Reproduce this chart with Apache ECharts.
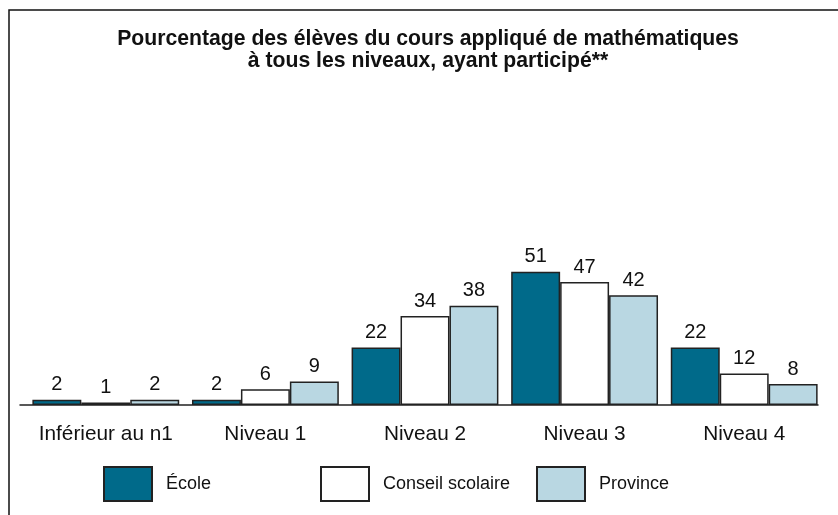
<!DOCTYPE html>
<html>
<head>
<meta charset="utf-8">
<script src="https://cdn.jsdelivr.net/npm/echarts@6/dist/echarts.min.js"></script>
<style>html,body{margin:0;padding:0;background:#fff}#c{width:838px;height:515px}</style>
</head>
<body>
<div id="c"></div>
<script>
var titleText = 'Pourcentage des élèves du cours appliqué de mathématiques\nà tous les niveaux, ayant participé**';
var categories = ['Inférieur au n1', 'Niveau 1', 'Niveau 2', 'Niveau 3', 'Niveau 4'];
var seriesNames = ['École', 'Conseil scolaire', 'Province'];
var ecole = [2, 2, 22, 51, 22];
var conseil = [1, 6, 34, 47, 12];
var province = [2, 9, 38, 42, 8];

var FONT = 'Liberation Sans, Arial, sans-serif';
var colors = ['#006a8a', '#ffffff', '#b9d7e2'];
var values = [ecole, conseil, province];

var chart = echarts.init(document.getElementById('c'));
var series = seriesNames.map(function (n, i) {
  return {
    name: n,
    type: 'bar',
    data: values[i],
    barGap: '0%',
    barCategoryGap: '8%',
    itemStyle: { color: colors[i], borderColor: '#222', borderWidth: 1.5 },
    label: { show: true, position: 'top', distance: 5, color: '#111', fontSize: 20, fontFamily: FONT },
    emphasis: { disabled: true }
  };
});
var legendLefts = [103, 320, 536];
var legends = seriesNames.map(function (n, i) {
  return {
    data: [n],
    left: legendLefts[i],
    top: 466,
    padding: 0,
    itemWidth: 48,
    itemHeight: 34,
    itemGap: 0,
    icon: 'rect',
    textStyle: { fontSize: 18, fontFamily: FONT, color: '#111', padding: [0, 0, 0, 9] },
    selectedMode: false
  };
});
chart.setOption({
  animation: false,
  title: {
    text: titleText,
    left: 423,
    textAlign: 'center',
    top: 23,
    textStyle: { fontSize: 21.2, fontWeight: 'bold', fontFamily: FONT, color: '#111', lineHeight: 22, align: 'center' }
  },
  legend: legends,
  grid: [
    { left: 26, right: 14, top: 143.5, bottom: 110, containLabel: false },
    { left: 20, right: 20, top: 143.5, bottom: 110, containLabel: false }
  ],
  xAxis: [
    {
      type: 'category',
      gridIndex: 0,
      data: categories,
      axisLine: { show: false },
      axisTick: { show: false },
      axisLabel: { interval: 0, fontSize: 20.8, fontFamily: FONT, color: '#111', margin: 19 }
    },
    {
      type: 'category',
      gridIndex: 1,
      data: categories,
      axisLine: { lineStyle: { color: '#222', width: 1.5 } },
      axisTick: { show: false },
      axisLabel: { show: false }
    }
  ],
  yAxis: [
    { type: 'value', gridIndex: 0, min: 0, max: 100, show: false, splitLine: { show: false } },
    { type: 'value', gridIndex: 1, min: 0, max: 100, show: false, splitLine: { show: false } }
  ],
  series: series,
  graphic: [
    { type: 'polyline', shape: { points: [[9, 515], [9, 10], [838, 10]] }, style: { stroke: '#111', lineWidth: 1.5, fill: null } }
  ]
});
</script>
</body>
</html>
